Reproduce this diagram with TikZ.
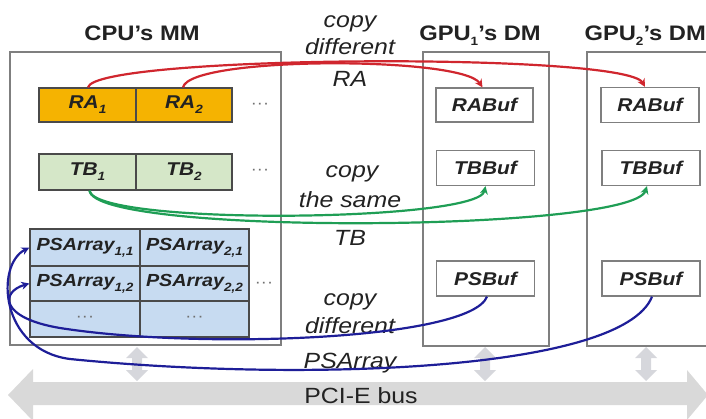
\documentclass[tikz,border=0pt]{standalone}
\usepackage{fontspec}
\setmainfont{Liberation Sans}[FakeStretch=1.13]
\usetikzlibrary{arrows.meta}
\definecolor{rafill}{HTML}{F5B301}
\definecolor{tbfill}{HTML}{D5E7C8}
\definecolor{psfill}{HTML}{C7DBF1}
\definecolor{boxgray}{HTML}{7F7F7F}
\definecolor{cellline}{HTML}{4A4A4A}
\definecolor{busgray}{HTML}{D9D9D9}
\definecolor{smallgray}{HTML}{D6D7DC}
\definecolor{cred}{HTML}{D0262E}
\definecolor{cgreen}{HTML}{1F9E55}
\definecolor{cblue}{HTML}{1E1E98}
\definecolor{txt}{HTML}{222222}
\definecolor{dotgray}{HTML}{707070}
\newcommand\subtxt[1]{\raisebox{-0.28em}{\fontsize{12}{12}\selectfont #1}}
\begin{document}
\begin{tikzpicture}[x=1pt,y=-1pt,
  memorybox/.style={draw=boxgray,line width=1.3pt},
  cellbox/.style={draw=cellline,line width=1.3pt,inner sep=0pt,text=txt,
    font=\fontsize{18.5}{20}\selectfont\bfseries\itshape},
  pscell/.style={cellbox,fill=psfill,minimum width=110pt,
    font=\fontsize{17.5}{20}\selectfont\bfseries\itshape},
  bufbox/.style={draw=boxgray,fill=white,line width=1.3pt,inner sep=0pt,text=txt,
    minimum width=98pt,minimum height=35pt,
    font=\fontsize{18.5}{20}\selectfont\bfseries\itshape},
  title/.style={anchor=base,text=txt,font=\fontsize{21}{24}\selectfont\bfseries},
  midtext/.style={anchor=base,text=txt,font=\fontsize{22}{26}\selectfont\itshape},
  dots/.style={text=dotgray,font=\fontsize{16}{16}\selectfont},
  redarrow/.style={draw=cred,line width=2.2pt,-{Stealth[length=8pt,width=8pt]}},
  greenarrow/.style={draw=cgreen,line width=2.2pt,-{Stealth[length=8pt,width=8pt]}},
  bluearrow/.style={draw=cblue,line width=2.2pt,-{Stealth[length=8pt,width=8pt]}}]
\useasboundingbox (0,0) rectangle (706,418);
\begin{scope}
\clip (0,0) rectangle (706,418);

% PCI-E bus
\fill[busgray] (8,395) -- (33,369) -- (33,382) -- (687,382) -- (687,370)
  -- (708,395) -- (687,420) -- (687,405) -- (33,405) -- (33,421) -- cycle;
\node[anchor=base,text=txt,font=\fontsize{22}{26}\selectfont] (bus) at (361,403) {PCI-E bus};

% small double arrows
\foreach \x in {137,485,646}{
  \fill[smallgray] (\x,347) -- (\x+11,358) -- (\x+5,358) -- (\x+5,370) -- (\x+11,370)
    -- (\x,381) -- (\x-11,370) -- (\x-5,370) -- (\x-5,358) -- (\x-11,358) -- cycle;
}

% memory boxes
\draw[memorybox] (10,52) rectangle (281,345);
\draw[memorybox] (423,52) rectangle (549,346);
\draw[memorybox] (587,52) rectangle (740,346);

% titles
\node[title] (cputitle) at (142,40) {CPU’s MM};
\node[title] (gpuonetitle) at (480,40) {GPU\subtxt{1}’s DM};
\node[title,anchor=base west] (gputwotitle) at (581,40) {GPU\subtxt{2}’s DM};

% RA row
\node[cellbox,fill=rafill,minimum width=97pt,minimum height=34pt] (ra1) at (87.5,105) {RA\subtxt{1}};
\node[cellbox,fill=rafill,minimum width=96pt,minimum height=34pt] (ra2) at (184,105) {RA\subtxt{2}};
\node[dots] (radots) at (260,106) {···};

% TB row
\node[cellbox,fill=tbfill,minimum width=97pt,minimum height=36pt] (tb1) at (87.5,172) {TB\subtxt{1}};
\node[cellbox,fill=tbfill,minimum width=96pt,minimum height=36pt] (tb2) at (184,172) {TB\subtxt{2}};
\node[dots] (tbdots) at (260,172) {···};

% PSArray table
\node[pscell,minimum height=37pt] (ps11) at (85,247.5) {PSArray\subtxt{1,1}};
\node[pscell,minimum width=109pt,minimum height=37pt] (ps21) at (194.5,247.5) {PSArray\subtxt{2,1}};
\node[pscell,minimum height=35pt] (ps12) at (85,283.5) {PSArray\subtxt{1,2}};
\node[pscell,minimum width=109pt,minimum height=35pt] (ps22) at (194.5,283.5) {PSArray\subtxt{2,2}};
\node[pscell,minimum height=36pt,font=\fontsize{16}{16}\selectfont,text=dotgray] (ps13) at (85,319) {···};
\node[pscell,minimum width=109pt,minimum height=36pt,font=\fontsize{16}{16}\selectfont,text=dotgray] (ps23) at (194.5,319) {···};
\node[dots] (psdots) at (264,285) {···};

% GPU buffers
\node[bufbox,minimum width=97pt,minimum height=34pt] (rab1) at (484.5,105) {RABuf};
\node[bufbox] (tbb1) at (485.5,168) {TBBuf};
\node[bufbox] (psb1) at (485.5,278.5) {PSBuf};
\node[bufbox] (rab2) at (650,105) {RABuf};
\node[bufbox] (tbb2) at (651,168) {TBBuf};
\node[bufbox] (psb2) at (651,278.5) {PSBuf};

% middle labels
\node[midtext] (l1a) at (350,27) {copy};
\node[midtext] (l1b) at (350,54) {different};
\node[midtext] (l1c) at (350,86) {RA};
\node[midtext] (l2a) at (352,177) {copy};
\node[midtext] (l2b) at (350,207) {the same};
\node[midtext] (l2c) at (350,245) {TB};
\node[midtext] (l3a) at (350,305) {copy};
\node[midtext] (l3b) at (350,333) {different};
\node[midtext] (l3c) at (350,368) {PSArray};

% red connectors
\draw[redarrow] ([xshift=0.5pt]ra1.north) .. controls (95,55) and (625,52) .. ([xshift=-5pt]rab2.north);
\draw[redarrow] ([xshift=-1pt]ra2.north) .. controls (190,56) and (462,56) .. ([xshift=-2pt]rab1.north);

% green connectors
\draw[greenarrow] ([xshift=2pt]tb1.south) .. controls (95,226) and (478,222) .. (tbb1.south);
\draw[greenarrow] ([xshift=2pt]tb1.south) .. controls (95,236) and (632,232) .. ([xshift=-4pt]tbb2.south);

% blue connectors
\draw[bluearrow] ([xshift=1.5pt]psb1.south) .. controls (470,340) and (200,350) .. (60,328)
  .. controls (0,318) and (0,292) .. (ps12.west);
\draw[bluearrow] ([xshift=1pt]psb2.south) .. controls (622,372) and (300,382) .. (70,359)
  .. controls (0,350) and (-5,265) .. (ps11.west);
\end{scope}
\end{tikzpicture}
\end{document}
